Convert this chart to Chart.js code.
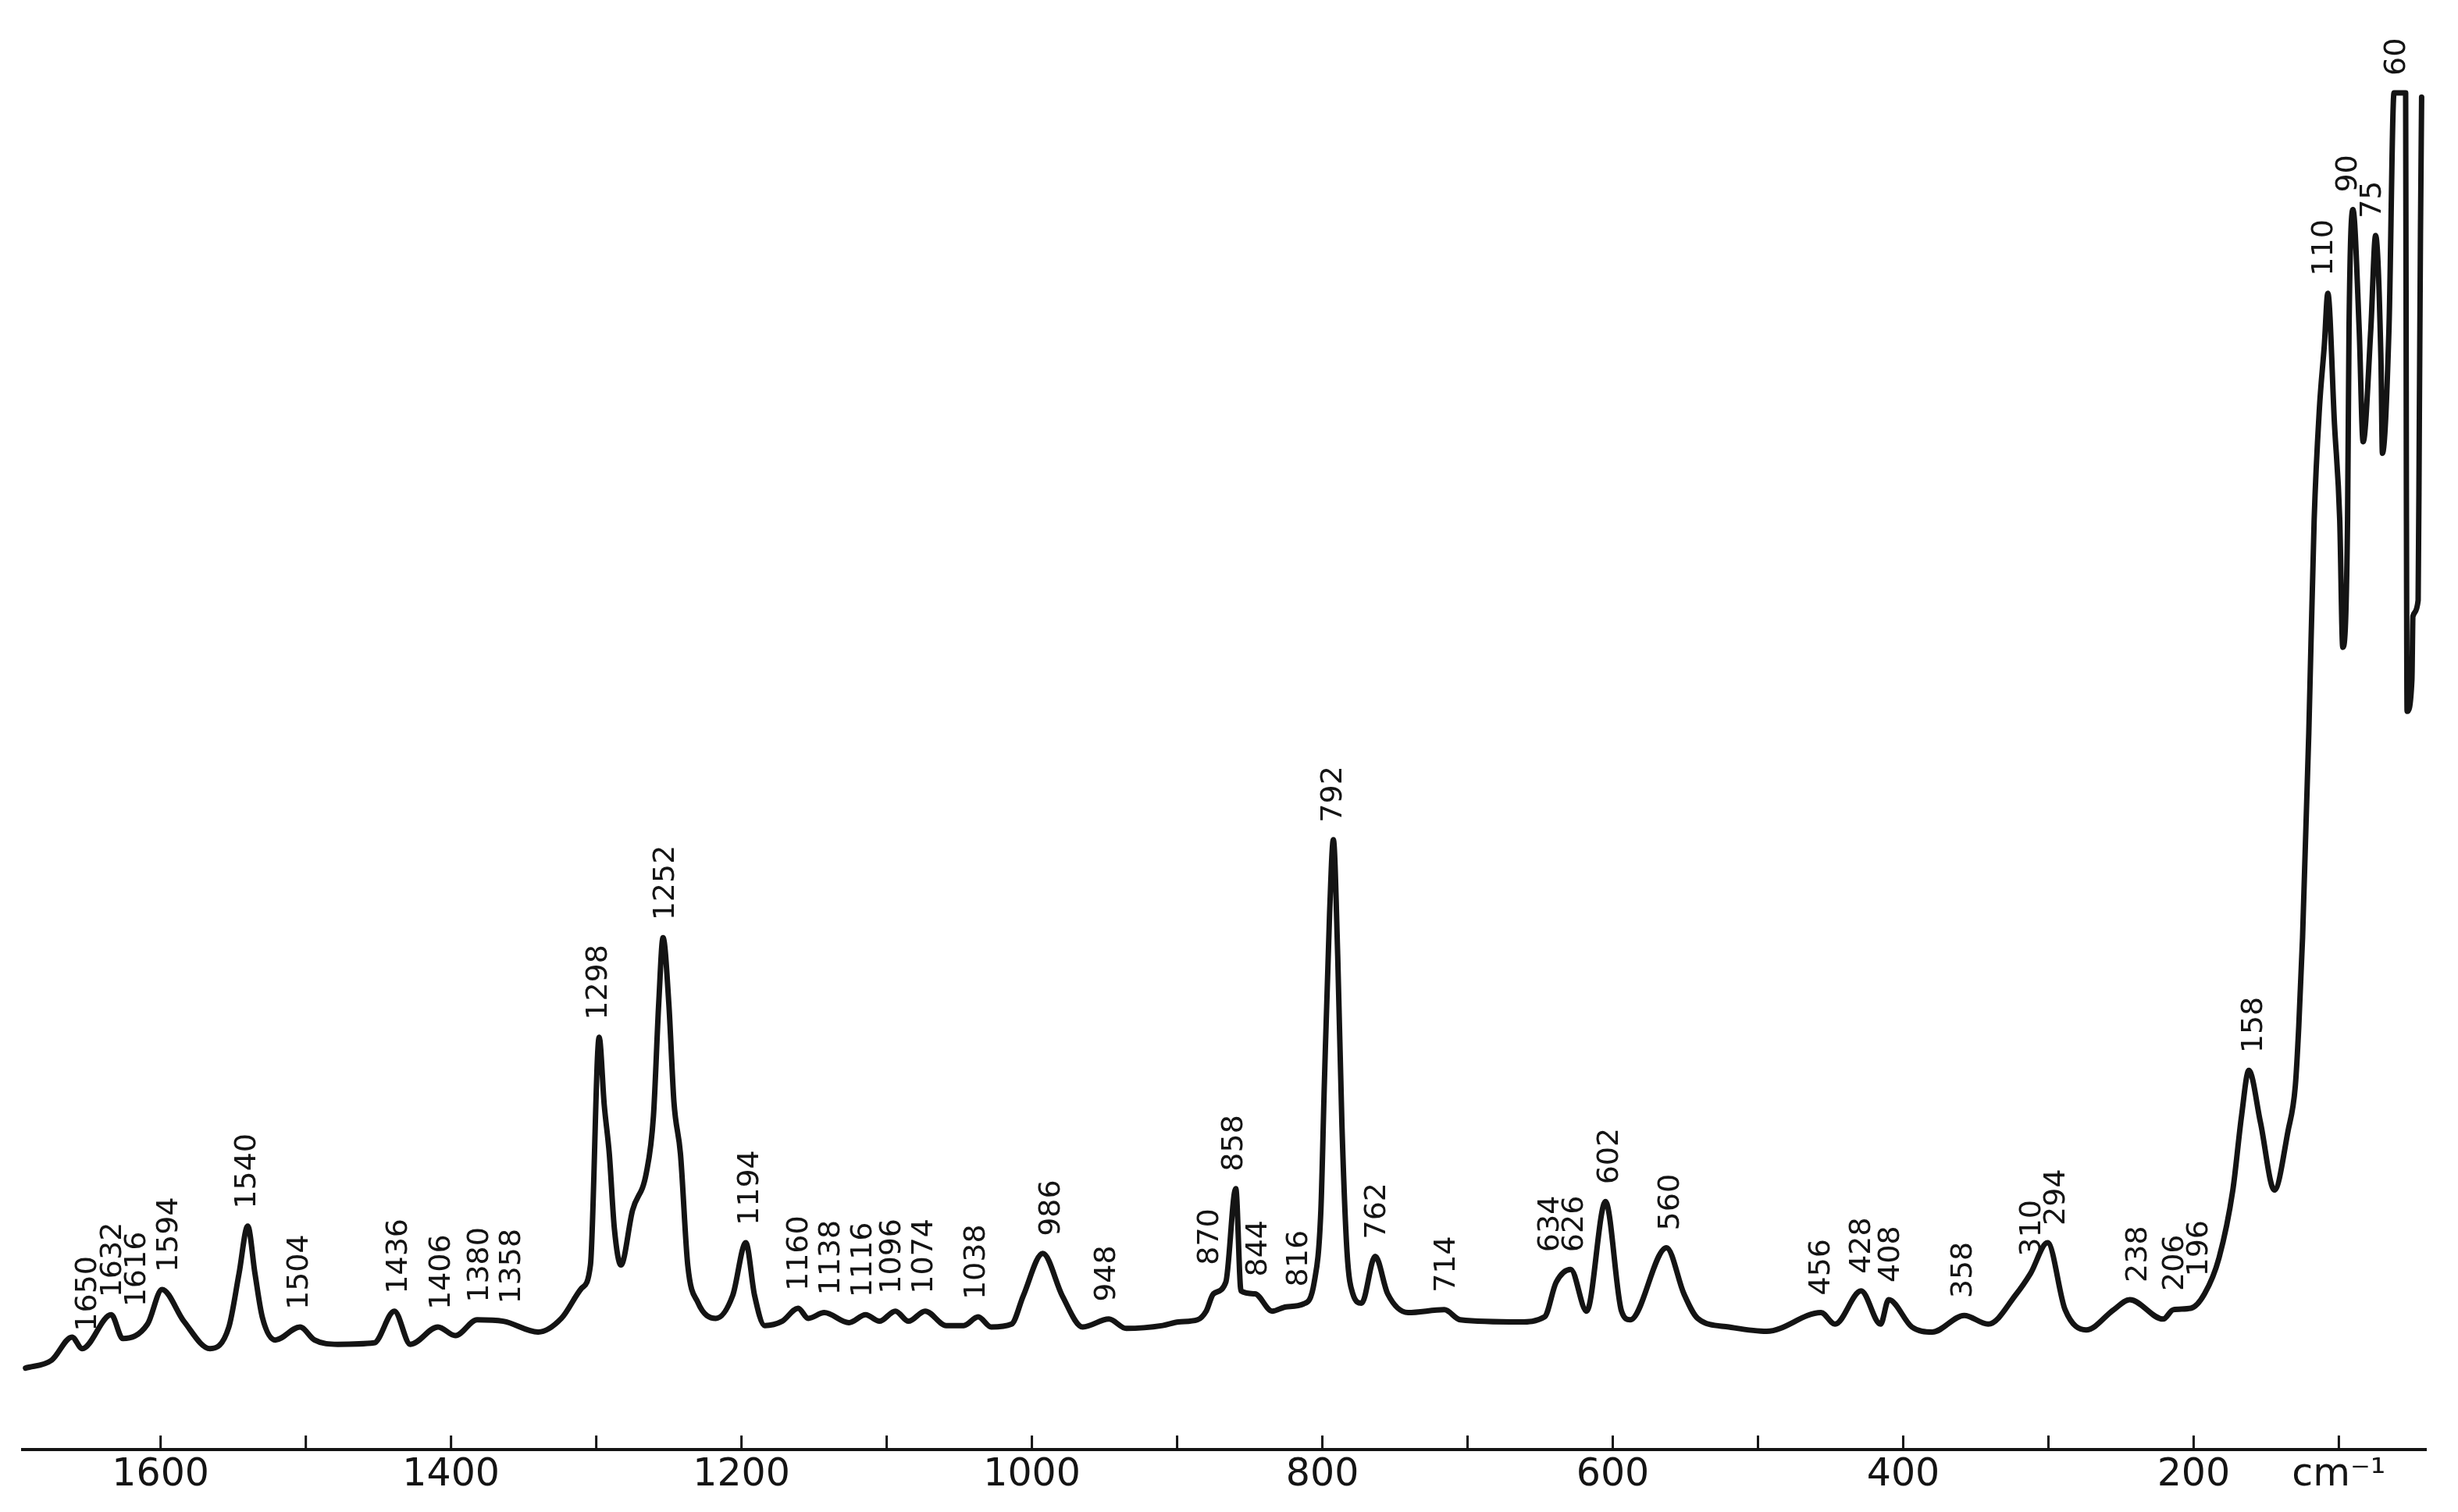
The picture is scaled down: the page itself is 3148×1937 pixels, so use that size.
<!DOCTYPE html>
<html>
<head>
<meta charset="utf-8">
<title>Raman spectrum</title>
<script src="https://cdn.jsdelivr.net/npm/chart.js@4.4.1/dist/chart.umd.min.js"></script>
<style>
  html, body { margin: 0; padding: 0; background: #fff; }
  canvas { display: block; }
</style>
</head>
<body>
<canvas id="spectrum" width="3148" height="1937"></canvas>
<script>
const wavenumbers = [
  1693, 1675, 1661, 1654, 1634, 1626, 1609, 1599, 1584, 1566, 1553, 1546, 1540, 1535, 1530, 1521,
  1504, 1494, 1478, 1453, 1439, 1428, 1409, 1397, 1382, 1364, 1340, 1324, 1310, 1304, 1298, 1294.5,
  1291, 1287.5, 1283, 1275, 1265.5, 1260.6, 1257, 1254, 1250, 1246.5, 1242, 1237, 1230, 1217.6, 1206,
  1197, 1191, 1184, 1172, 1161, 1154, 1143, 1126, 1114.5, 1105, 1094, 1085, 1073.5, 1059, 1047, 1037,
  1028, 1014, 1006, 992.5, 979, 965, 947, 935, 910, 899, 886, 880, 875, 866.5, 859.6, 856, 846.5,
  834.5, 825, 813, 805.6, 801, 798.6, 795, 792.4, 789.4, 786.5, 783, 779, 773, 763.6, 755, 741, 716,
  705, 664, 647, 639, 629, 618, 605, 594, 588, 563, 551, 541.5, 520, 494, 456.6, 447, 429, 415.6, 410,
  394, 380, 358, 341.5, 322, 312.4, 300.6, 288.5, 274, 255, 244, 221, 214, 202, 192.5, 182.5, 173,
  167, 162, 154, 144.4, 135, 130, 127.6, 125, 120.7, 117, 113.4, 110, 107.6, 103, 99.4, 97.3, 94, 93,
  90.3, 86, 83.3, 78, 74.7, 71, 70, 65.5, 62, 54, 53.5, 53, 49.7, 49, 45.4, 44.6, 43.8, 43
];

// relative Raman intensity (arbitrary units)
const intensity = [
  5.65, 6.2, 7.8, 7.0, 9.35, 7.7, 8.7, 11.1, 8.9, 7.0, 8.5, 12.2, 15.5, 12.2, 9.2, 7.6,
  8.5, 7.6, 7.3, 7.4, 9.6, 7.3, 8.5, 7.9, 9.0, 8.9, 8.15, 9.1, 11.2, 12.8, 28.6, 23.9,
  20.5, 15.3, 12.8, 16.6, 19.2, 23.15, 30.9, 35.5, 30.9, 24.1, 20.5, 12.8, 10.2, 9.1, 10.7,
  14.35, 10.7, 8.6, 8.9, 9.8, 9.1, 9.5, 8.8, 9.35, 8.9, 9.6, 8.9, 9.6, 8.6, 8.6, 9.2,
  8.5, 8.7, 10.65, 13.6, 10.65, 8.5, 9.05, 8.4, 8.6, 8.85, 9.0, 9.6, 10.8, 11.6, 18.1, 11.0, 10.8,
  9.6, 9.9, 10.1, 11.6, 16.6, 25.4, 37.2, 42.3, 34.2, 22.5, 13.7, 10.8, 10.15, 13.4, 10.8, 9.5, 9.7,
  9.0, 8.85, 9.2, 11.6, 12.5, 9.6, 17.2, 9.6, 9.0, 14.0, 10.8, 9.1, 8.5, 8.2, 9.5, 8.7, 11.0, 8.7, 10.4,
  8.5, 8.15, 9.3, 8.7, 10.8, 12.2, 14.35, 9.7, 8.3, 9.7, 10.4, 9.05, 9.7, 9.8, 10.8, 13.3, 18.0,
  23.15, 26.3, 22.7, 18.0, 22.1, 25.2, 29.35, 35.5, 49.7, 64.5, 72.2, 76.6, 80.2, 71.1, 64.5, 55.65, 64.5, 77.7,
  86.0, 77.7, 69.9, 77.7, 84.2, 75.5, 69.1, 77.7, 94.1, 94.1, 66.6, 51.2, 53.4, 57.8, 58.9, 71.1, 84.3, 93.8
];

// band positions written above the trace
const peakLabels = [
  1650, 1632, 1616, 1594, 1540, 1504, 1436, 1406, 1380, 1358, 1298, 1252, 1194, 1160, 1138, 1116,
  1096, 1074, 1038, 986, 948, 870, 858, 844, 816, 792, 762, 714, 634, 626, 602, 560, 456, 428, 408,
  358, 310, 294, 238, 206, 196, 158, 110, 90, 75, 60
];

// axis ticks
const tickValues = [100, 200, 300, 400, 500, 600, 700, 800, 900, 1000, 1100, 1200, 1300, 1400, 1500, 1600];
const tickLabels = ['cm\u207B\u00B9', '200', '', '400', '', '600', '', '800', '', '1000', '', '1200', '', '1400', '', '1600'];

const ink = '#141414';

// small upward tick marks on the axis line
const upTicks = {
  id: 'upTicks',
  afterDraw(chart) {
    const { ctx, chartArea, scales: { x } } = chart;
    ctx.save();
    ctx.strokeStyle = ink;
    ctx.lineWidth = 3;
    ctx.beginPath();
    x.ticks.forEach(t => {
      const px = x.getPixelForValue(t.value);
      ctx.moveTo(px, chartArea.bottom);
      ctx.lineTo(px, chartArea.bottom - 18);
    });
    ctx.stroke();
    ctx.restore();
  }
};

// vertical band labels above the local maximum
const bandLabels = {
  id: 'bandLabels',
  afterDatasetsDraw(chart) {
    const { ctx, scales: { x, y } } = chart;
    const items = peakLabels.map(p => {
      let top = 0;
      wavenumbers.forEach((w, i) => {
        if (Math.abs(w - p) <= 8) top = Math.max(top, intensity[i]);
      });
      return { text: String(p), px: x.getPixelForValue(p), py: y.getPixelForValue(top) - 22 };
    });
    // keep neighbours apart, pushing the left one leftwards
    items.sort((a, b) => a.px - b.px);
    for (let i = items.length - 2; i >= 0; i--) {
      items[i].px = Math.min(items[i].px, items[i + 1].px - 31);
    }
    ctx.save();
    ctx.fillStyle = ink;
    ctx.font = '38px "DejaVu Sans"';
    ctx.textAlign = 'left';
    ctx.textBaseline = 'middle';
    items.forEach(it => {
      ctx.save();
      ctx.translate(it.px, it.py);
      ctx.rotate(-Math.PI / 2);
      ctx.fillText(it.text, 0, 0);
      ctx.restore();
    });
    ctx.restore();
  }
};

Chart.defaults.font.family = '"DejaVu Sans", sans-serif';
Chart.defaults.color = ink;

const ctx = document.getElementById('spectrum').getContext('2d');
const spectrumChart = new Chart(ctx, {
  type: 'line',
  data: {
    datasets: [{
      data: wavenumbers.map((w, i) => ({ x: w, y: intensity[i] })),
      borderColor: ink,
      borderWidth: 7,
      borderJoinStyle: 'round',
      borderCapStyle: 'round',
      pointRadius: 0,
      cubicInterpolationMode: 'monotone',
      fill: false
    }]
  },
  options: {
    responsive: false,
    animation: false,
    events: [],
    layout: { padding: { left: 29, right: 41, top: 10, bottom: 0 } },
    plugins: { legend: { display: false }, tooltip: { enabled: false } },
    scales: {
      x: {
        type: 'linear',
        reverse: true,
        min: 40,
        max: 1695,
        afterBuildTicks: scale => { scale.ticks = tickValues.map(v => ({ value: v })); },
        afterFit: scale => { scale.height = 80; },
        border: { display: true, color: ink, width: 4 },
        grid: { display: true, drawOnChartArea: false, drawTicks: false },
        ticks: {
          autoSkip: false,
          maxRotation: 0,
          minRotation: 0,
          padding: 4,
          font: { size: 49 },
          color: ink,
          callback: (value, index) => tickLabels[index]
        }
      },
      y: {
        display: false,
        min: 0,
        max: 100
      }
    }
  },
  plugins: [upTicks, bandLabels]
});
</script>
</body>
</html>
